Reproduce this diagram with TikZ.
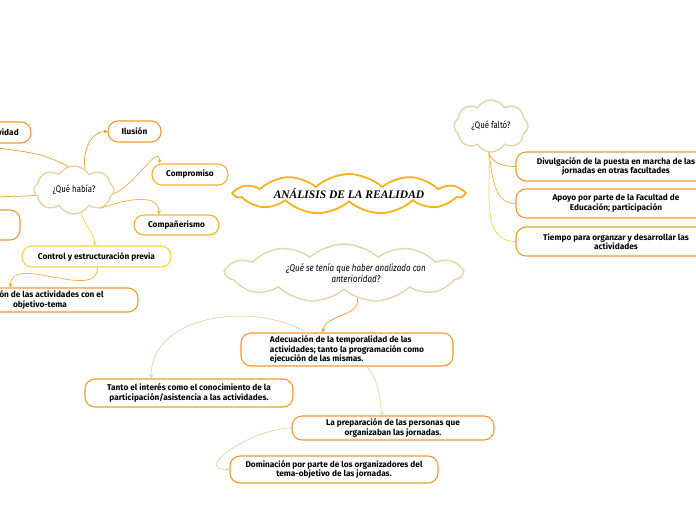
\documentclass[tikz,border=0pt]{standalone}
\usepackage{fontspec}
\usepackage{xcolor}
\usepackage{tikz}
\usetikzlibrary{shapes.symbols, arrows.meta, positioning}
\setmainfont{Fira Sans}
\newfontfamily\cloudfont[FakeStretch=0.82]{Fira Sans}
\newfontfamily\titlefont{Liberation Serif}

\definecolor{darkorange}{HTML}{F39A2E}
\definecolor{midorange}{HTML}{F8B133}
\definecolor{lightyellow}{HTML}{FDD23E}
\definecolor{sand}{HTML}{E6D3A6}
\definecolor{goldline}{HTML}{F7B21B}

\begin{document}
\begin{tikzpicture}[
    x=1pt, y=-1pt,
    topic/.style={rectangle, rounded corners=10pt, draw=darkorange, line width=1.1pt, fill=white, align=center, font=\fontsize{8.3}{9.6}\selectfont\bfseries, inner sep=2pt},
    idea/.style={cloud, cloud puffs=8, cloud puff arc=120, cloud ignores aspect, draw=sand, line width=1.4pt, fill=white, align=center, inner sep=0pt, font=\cloudfont\fontsize{9.5}{11}\selectfont},
    wideidea/.style={idea, cloud puffs=11, cloud puff arc=85},
    arrow/.style={-{Stealth[length=4pt, width=4pt]}, line width=0.7pt},
    plain/.style={line width=0.7pt}
]
\useasboundingbox (0,0) rectangle (696,520);

% Left branch: ¿Qué había?
\node (habia) [idea, minimum width=80, minimum height=48] at (74,190) {¿Qué había?};
\node (creatividad) [topic, minimum width=68, minimum height=21] at (-3,132.5) {Creatividad};
\node (lefttwo) [topic, minimum width=100, minimum height=30] at (-30,225) {};
\node (ilusion) [topic, minimum width=53, minimum height=21] at (134.5,131.5) {Ilusión};
\node (compromiso) [topic, draw=midorange, minimum width=76, minimum height=21] at (190,174.5) {Compromiso};
\node (companerismo) [topic, draw=midorange, minimum width=85, minimum height=20] at (176.5,225) {Compañerismo};
\node (control) [topic, draw=lightyellow, minimum width=149, minimum height=21] at (96.5,256.5) {Control y estructuración previa};
\node (relacion) [topic, minimum width=196, minimum height=24] at (40,300) {Relación de las actividades con el\\objetivo-tema};

% Centre
\node (titulo) [wideidea, draw=goldline, line width=1.8pt, minimum width=228, minimum height=40, font=\titlefont\fontsize{11.5}{13}\selectfont\bfseries\itshape] at (349,194) {ANÁLISIS DE LA REALIDAD};
\node (analizado) [wideidea, minimum width=236, minimum height=58, font=\cloudfont\fontsize{9.8}{11.5}\selectfont\itshape] at (344,273) {\hspace*{24pt}¿Qué se tenía que haber analizado con\\\hspace*{24pt}anterioridad?};

% Lower branch
\node (adecuacion) [topic, minimum width=212, minimum height=33, align=left] at (347,349.5) {Adecuación de la temporalidad de las\\actividades; tanto la programación como\\ejecución de las mismas.};
\node (tanto) [topic, minimum width=208, minimum height=28] at (189,393) {Tanto el interés como el conocimiento de la\\participación/asistencia a las actividades.};
\node (preparacion) [topic, minimum width=202, minimum height=24] at (393,428) {La preparación de las personas que\\organizaban las jornadas.};
\node (dominacion) [topic, minimum width=208, minimum height=27] at (334,469.5) {Dominación por parte de los organizadores del\\tema-objetivo de las jornadas.};

% Right branch: ¿Qué faltó?
\node (falto) [idea, minimum width=74, minimum height=52] at (491,126) {¿Qué faltó?};
\node (divulgacion) [topic, minimum width=200, minimum height=29] at (616,166.5) {Divulgación de la puesta en marcha de las\\jornadas en otras facultades};
\node (apoyo) [topic, minimum width=200, minimum height=29] at (616,203.5) {Apoyo por parte de la Facultad de\\Educación; participación};
\node (tiempo) [topic, minimum width=200, minimum height=29] at (616,241.5) {Tiempo para organzar y desarrollar las\\actividades};

% Arrows: ¿Qué había?
\draw [plain, darkorange] (habia.105) to[out=150, in=-15] (creatividad.-150);
\draw [plain, darkorange] (habia.188) to[out=185, in=40] (lefttwo.north);
\draw [arrow, darkorange] (habia.62) to[out=100, in=180] (ilusion.west);
\draw [arrow, midorange] (habia.-5) to[out=20, in=90] (compromiso.160);
\draw [arrow, midorange] (habia.-35) to[out=20, in=90] (companerismo.149);
\draw [arrow, lightyellow] (habia.-72) to[out=-80, in=90] (control.100);
\draw [arrow, midorange] (control.-85) to[out=-90, in=90] (relacion.157);

% Arrows: analysis
\draw [arrow, darkorange] (analizado.-62) to[out=-80, in=80] (adecuacion.145);
\draw [arrow, sand] (adecuacion.157) to[out=150, in=90] (tanto.159);
\draw [arrow, sand] (adecuacion.-41) to[out=-50, in=100] (preparacion.130);
\draw [arrow, sand] (preparacion.west) to[out=180, in=180, looseness=1.3] (dominacion.west);

% Arrows: ¿Qué faltó?
\draw [plain, darkorange] (falto.-95) to[out=-70, in=180] (divulgacion.west);
\draw [plain, midorange] (falto.-95) to[out=-80, in=180] (apoyo.west);
\draw [plain, lightyellow] (falto.-95) to[out=-85, in=180] (tiempo.west);
\end{tikzpicture}
\end{document}
